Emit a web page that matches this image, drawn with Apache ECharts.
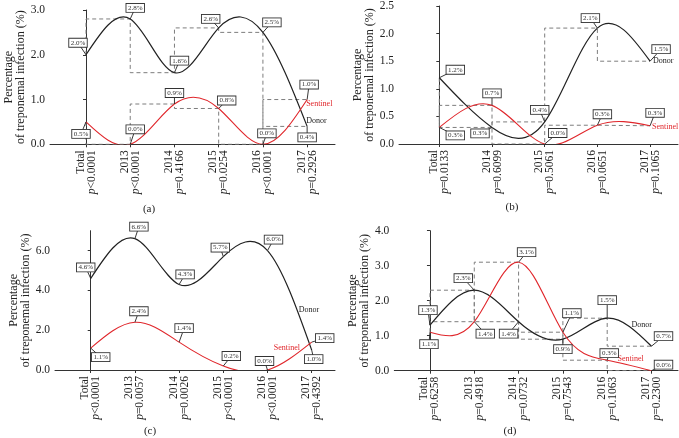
<!DOCTYPE html>
<html><head><meta charset="utf-8">
<script src="https://cdn.jsdelivr.net/npm/echarts@6/dist/echarts.min.js"></script>
<style>html,body{margin:0;padding:0;background:#fff}#c{width:679px;height:438px}</style>
</head><body><div id="c"></div>
<script>
// ---------- data ----------
const catsA = ['Total', '2013', '2014', '2015', '2016', '2017'];
const pA = ['<0.0001', '<0.0001', '=0.4166', '=0.0254', '<0.0001', '=0.2926'];
const donorA = [2.0, 2.8, 1.6, 2.6, 2.5, 0.4];
const sentinelA = [0.5, 0.0, 0.9, 0.8, 0.0, 1.0];
const yTicksA = [0, 1, 2, 3];

const catsB = ['Total', '2014', '2015', '2016', '2017'];
const pB = ['=0.0133', '=0.6099', '=0.5061', '=0.0651', '=0.1065'];
const donorB = [1.2, 0.3, 0.4, 2.1, 1.5];
const sentinelB = [0.3, 0.7, 0.0, 0.34, 0.33];
const yTicksB = [0, 0.5, 1, 1.5, 2, 2.5];

const catsC = ['Total', '2013', '2014', '2015', '2016', '2017'];
const pC = ['<0.0001', '=0.0057', '=0.0026', '<0.0001', '<0.0001', '=0.4392'];
const donorC = [4.6, 6.6, 4.3, 5.7, 6.0, 1.0];
const sentinelC = [1.1, 2.4, 1.4, 0.2, 0.0, 1.4];
const yTicksC = [0, 2, 4, 6];

const catsD = ['Total', '2013', '2014', '2015', '2016', '2017'];
const pD = ['=0.6258', '=0.4918', '=0.0732', '=0.7543', '=0.1063', '=0.2300'];
const donorD = [1.3, 2.3, 1.4, 0.9, 1.5, 0.7];
const sentinelD = [1.1, 1.4, 3.1, 1.1, 0.3, 0.0];
const yTicksD = [0, 1, 2, 3, 4];

const panelTags = ['(a)', '(b)', '(c)', '(d)'];
const donorName = 'Donor';
const sentinelName = 'Sentinel';
const yName = 'Percentage\nof treponemal infection (%)';

// ---------- layout (label offsets in px, kept apart from data) ----------
const offDonorA = [[-8,-12],[5,-11],[5,-12],[-8,-9],[9,-10],[0,11]];
const offSentA  = [[-5,12],[5,-15],[0,-11],[8,-8],[4,-11],[2,-15]];
const offDonorB = [[16,-8],[-12,6],[-5,-12],[-7,-10],[11,-12]];
const offSentB  = [[16,8],[0,-12],[13,-11],[5,-11],[5,-13]];
const offDonorC = [[-5,-11],[4,-12],[6,-10],[-3,-9],[6,-11],[2,9]];
const offSentC  = [[10,9],[4,-11],[5,-14],[8,-10],[-3,-9],[13,-4]];
const offDonorD = [[-2,-15],[-11,-12],[-10,12],[0,10],[0,-18],[12,-10]];
const offSentD  = [[-1,12],[11,12],[8,-10],[9,-19],[2,-7],[12,-6]];
const nameOff = {
  A: {d: [-1, -5], s: [-1, 4]},
  B: {d: [3, 0], s: [2, 1]},
  C: {d: [-13, -40], s: [-38, 6]},
  D: {d: [-20, -21], s: [-34, -12]}
};

const FONT = '"Liberation Serif", "DejaVu Serif", serif';
const TXT = '#222';
const DONOR_C = '#222';
const SENT_C = '#e0262b';
const DASH_C = '#7d7d7d';

const grids = [
  {left: 50, top: 10, width: 285, height: 134.3},
  {left: 399, top: 5.7, width: 279, height: 138.3},
  {left: 55, top: 230.7, width: 280, height: 139.3},
  {left: 394.3, top: 230.7, width: 283.7, height: 140}
];
const xRanges = [[-0.814, 5.63], [-0.765, 4.53], [-0.808, 5.527], [-0.805, 5.598]];
const yMax = [3, 2.5, 7, 4];

function xAxisFor(i, cats, pv) {
  const vals = cats.map((_, k) => k);
  return {
    type: 'value', gridIndex: i, min: xRanges[i][0], max: xRanges[i][1],
    splitLine: {show: false},
    axisLine: {onZero: false, lineStyle: {color: '#333', width: 1}},
    axisTick: {show: true, customValues: vals, length: 3, lineStyle: {color: '#333'}},
    axisLabel: {
      customValues: vals, rotate: 90, margin: 6, fontSize: 11.5, lineHeight: 11,
      fontFamily: FONT, color: TXT,
      formatter: v => cats[v] + '\n{i|p}' + pv[v],
      rich: {i: {fontStyle: 'italic', fontSize: 11.5, lineHeight: 11, fontFamily: FONT, color: TXT}}
    }
  };
}
function yAxisFor(i, ticks) {
  return {
    type: 'value', gridIndex: i, min: 0, max: yMax[i],
    splitLine: {show: false},
    axisLine: {show: true, lineStyle: {color: '#333', width: 1}},
    axisTick: {show: true, customValues: ticks, length: 3, lineStyle: {color: '#333'}},
    axisLabel: {customValues: ticks, formatter: v => v.toFixed(1), fontSize: 11.5, fontFamily: FONT, color: TXT, margin: 5},
    name: yName, nameLocation: 'middle', nameGap: 22, nameRotate: 90,
    nameTextStyle: {fontSize: 12, lineHeight: 12, fontFamily: FONT, color: TXT}
  };
}

// natural cubic spline through the data points, drawn as bezier segments
function splineSlopes(y) {
  const n = y.length;
  const M = new Array(n).fill(0);
  if (n > 2) {
    const c = [], d = [];
    for (let i = 1; i < n - 1; i++) {
      const rhs = 6 * (y[i + 1] - 2 * y[i] + y[i - 1]);
      if (i === 1) { c[i] = 1 / 4; d[i] = rhs / 4; }
      else {
        const den = 4 - c[i - 1];
        c[i] = 1 / den; d[i] = (rhs - d[i - 1]) / den;
      }
    }
    for (let i = n - 2; i >= 1; i--) M[i] = d[i] - (i < n - 2 ? c[i] * M[i + 1] : 0);
  }
  const m = [];
  for (let i = 0; i < n - 1; i++) m[i] = (y[i + 1] - y[i]) - (2 * M[i] + M[i + 1]) / 6;
  m[n - 1] = (y[n - 1] - y[n - 2]) + (M[n - 2] + 2 * M[n - 1]) / 6;
  return m;
}
function curve(i, values, color, width) {
  return {
    type: 'custom', xAxisIndex: i, yAxisIndex: i, silent: true, clip: true, z: 3,
    data: values.map((v, k) => [k, v]),
    renderItem(params, api) {
      if (params.dataIndex !== 0) return null;
      const pts = values.map((v, k) => api.coord([k, v]));
      const ys = pts.map(p => p[1]);
      const m = splineSlopes(ys);
      const children = [];
      for (let k = 0; k < pts.length - 1; k++) {
        const dx = pts[k + 1][0] - pts[k][0];
        children.push({type: 'bezierCurve', shape: {
          x1: pts[k][0], y1: pts[k][1], x2: pts[k + 1][0], y2: pts[k + 1][1],
          cpx1: pts[k][0] + dx / 3, cpy1: pts[k][1] + m[k] / 3,
          cpx2: pts[k + 1][0] - dx / 3, cpy2: pts[k + 1][1] - m[k + 1] / 3
        }, style: {stroke: color, lineWidth: width, fill: null}});
      }
      return {type: 'group', children: children};
    }
  };
}
function steps(i, values) {
  return {
    type: 'line', xAxisIndex: i, yAxisIndex: i, silent: true,
    data: values.map((v, k) => [k, v]),
    step: 'start', symbol: 'none', z: 1,
    lineStyle: {color: DASH_C, width: 1, type: [4, 3]}
  };
}
function labels(i, values, offs, name, nOff, nColor) {
  const last = values.length - 1;
  return {
    type: 'custom', xAxisIndex: i, yAxisIndex: i, silent: true, z: 6, clip: false,
    data: values.map((v, k) => [k, v]),
    renderItem(params, api) {
      const k = params.dataIndex;
      const p = api.coord([api.value(0), api.value(1)]);
      const o = offs[k];
      const children = [
        {type: 'line', shape: {x1: p[0], y1: p[1], x2: p[0] + o[0], y2: p[1] + o[1]},
         style: {stroke: '#222', lineWidth: 0.9}},
        {type: 'text', z2: 10, style: {
          text: api.value(1).toFixed(1) + '%', x: p[0] + o[0], y: p[1] + o[1],
          align: 'center', verticalAlign: 'middle', fill: '#333',
          font: '7px ' + FONT, backgroundColor: '#fff', borderColor: '#333', borderWidth: 0.9,
          padding: [1, 1.5, 0, 1.5]
        }}
      ];
      if (k === last) {
        children.push({type: 'text', style: {
          text: name, x: p[0] + nOff[0], y: p[1] + nOff[1], align: 'left', verticalAlign: 'middle',
          fill: nColor, font: '8px ' + FONT
        }});
      }
      return {type: 'group', children: children};
    }
  };
}

const chart = echarts.init(document.getElementById('c'), null, {renderer: 'canvas'});
chart.setOption({
  animation: false,
  backgroundColor: '#fff',
  grid: grids,
  xAxis: [xAxisFor(0, catsA, pA), xAxisFor(1, catsB, pB), xAxisFor(2, catsC, pC), xAxisFor(3, catsD, pD)],
  yAxis: [yAxisFor(0, yTicksA), yAxisFor(1, yTicksB), yAxisFor(2, yTicksC), yAxisFor(3, yTicksD)],
  graphic: [
    {type: 'text', x: 149, y: 209, style: {text: panelTags[0], align: 'center', verticalAlign: 'middle', font: '11px ' + FONT, fill: TXT}},
    {type: 'text', x: 512, y: 207, style: {text: panelTags[1], align: 'center', verticalAlign: 'middle', font: '11px ' + FONT, fill: TXT}},
    {type: 'text', x: 150, y: 431, style: {text: panelTags[2], align: 'center', verticalAlign: 'middle', font: '11px ' + FONT, fill: TXT}},
    {type: 'text', x: 510, y: 431, style: {text: panelTags[3], align: 'center', verticalAlign: 'middle', font: '11px ' + FONT, fill: TXT}}
  ],
  series: [
    steps(0, donorA), steps(0, sentinelA),
    curve(0, donorA, DONOR_C, 1.2), curve(0, sentinelA, SENT_C, 1.1),
    labels(0, donorA, offDonorA, donorName, nameOff.A.d, '#222'),
    labels(0, sentinelA, offSentA, sentinelName, nameOff.A.s, SENT_C),

    steps(1, donorB), steps(1, sentinelB),
    curve(1, donorB, DONOR_C, 1.2), curve(1, sentinelB, SENT_C, 1.1),
    labels(1, donorB, offDonorB, donorName, nameOff.B.d, '#222'),
    labels(1, sentinelB, offSentB, sentinelName, nameOff.B.s, SENT_C),

    curve(2, donorC, DONOR_C, 1.2), curve(2, sentinelC, SENT_C, 1.1),
    labels(2, donorC, offDonorC, donorName, nameOff.C.d, '#222'),
    labels(2, sentinelC, offSentC, sentinelName, nameOff.C.s, SENT_C),

    steps(3, donorD), steps(3, sentinelD),
    curve(3, donorD, DONOR_C, 1.2), curve(3, sentinelD, SENT_C, 1.1),
    labels(3, donorD, offDonorD, donorName, nameOff.D.d, '#222'),
    labels(3, sentinelD, offSentD, sentinelName, nameOff.D.s, SENT_C)
  ]
});
</script></body></html>
